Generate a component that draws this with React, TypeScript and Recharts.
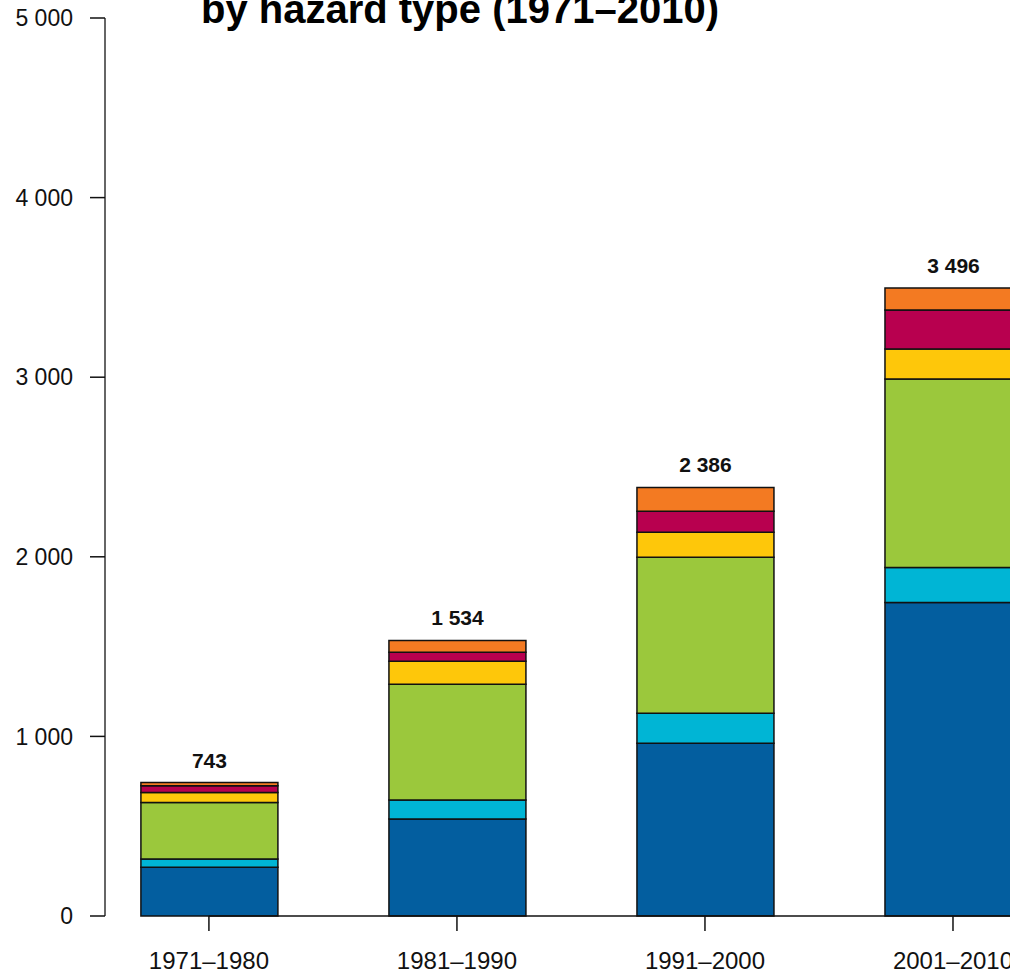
import { BarChart, Bar, XAxis, YAxis, LabelList, ReferenceLine } from 'recharts';

const periods = ['1971–1980', '1981–1990', '1991–2000', '2001–2010'];
const floods = [272, 540, 962, 1746];
const massMovement = [45, 106, 167, 195];
const storms = [315, 645, 868, 1049];
const droughts = [55, 128, 139, 167];
const extremeTemps = [38, 50, 117, 217];
const wildfires = [18, 65, 133, 122];
const totals = [743, 1534, 2386, 3496];
const yTicks = [0, 1000, 2000, 3000, 4000, 5000];

const data = periods.map((p, i) => ({
  x: i + 1,
  period: p,
  floods: floods[i],
  massMovement: massMovement[i],
  storms: storms[i],
  droughts: droughts[i],
  extremeTemps: extremeTemps[i],
  wildfires: wildfires[i],
  total: totals[i]
}));

const series = [
  { key: 'floods', name: 'Floods', color: '#035e9f' },
  { key: 'massMovement', name: 'Mass movement wet', color: '#00b5d5' },
  { key: 'storms', name: 'Storms', color: '#9bc83c' },
  { key: 'droughts', name: 'Droughts', color: '#fec70a' },
  { key: 'extremeTemps', name: 'Extreme temperatures', color: '#b8004f' },
  { key: 'wildfires', name: 'Wildfires', color: '#f37a22' }
];

const fmt = (v: number) => String(v).replace(/\B(?=(\d{3})+(?!\d))/g, ' ');
const font = '"Liberation Sans", Arial, Helvetica, sans-serif';

const TotalLabel = (props: any) => {
  const { x, y, width, value } = props;
  return (
    <text
      x={x + width / 2}
      y={y - 15}
      textAnchor="middle"
      fontFamily={font}
      fontWeight="bold"
      fontSize={21}
      fill="#111"
    >
      {fmt(value)}
    </text>
  );
};

export default function App() {
  return (
    <div style={{ position: 'relative', width: 1010, height: 974, overflow: 'hidden', background: '#fff' }}>
      <style>{`body{margin:0}`}</style>
      <svg width={1010} height={60} style={{ position: 'absolute', left: 0, top: 0 }}>
        <text x={460} y={23} textAnchor="middle" fontFamily={font} fontWeight="bold" fontSize={40} fill="#000">
          by hazard type (1971–2010)
        </text>
      </svg>
      <BarChart
        width={1100}
        height={974}
        data={data}
        margin={{ top: 18, right: 23, left: 0, bottom: 0 }}
        style={{ fontFamily: font }}
      >
        <XAxis
          type="number"
          dataKey="x"
          domain={[0.581, 4.5]}
          allowDataOverflow
          ticks={[1, 2, 3, 4]}
          tickFormatter={(v: number) => periods[v - 1] ?? ''}
          axisLine={false}
          tickSize={15}
          tickMargin={21}
          height={58}
          tick={{ fill: '#111', fontSize: 24 }}
          tickLine={{ stroke: '#111', strokeWidth: 1.5 }}
        />
        <YAxis
          domain={[0, 5000]}
          ticks={yTicks}
          tickFormatter={fmt}
          width={105}
          tickSize={15}
          tickMargin={17}
          tick={{ fill: '#111', fontSize: 23 }}
          axisLine={{ stroke: '#333', strokeWidth: 1.5 }}
          tickLine={{ stroke: '#111', strokeWidth: 1.5 }}
        />
        <ReferenceLine
          segment={[{ x: 1, y: 0 }, { x: 4.5, y: 0 }]}
          stroke="#111"
          strokeWidth={1.5}
        />
        {series.map((s, i) => (
          <Bar
            key={s.key}
            dataKey={s.key}
            name={s.name}
            stackId="a"
            fill={s.color}
            stroke="#111"
            strokeWidth={1.5}
            barSize={137}
            isAnimationActive={false}
          >
            {i === series.length - 1 && (
              <LabelList dataKey="total" content={<TotalLabel />} />
            )}
          </Bar>
        ))}
      </BarChart>
    </div>
  );
}
